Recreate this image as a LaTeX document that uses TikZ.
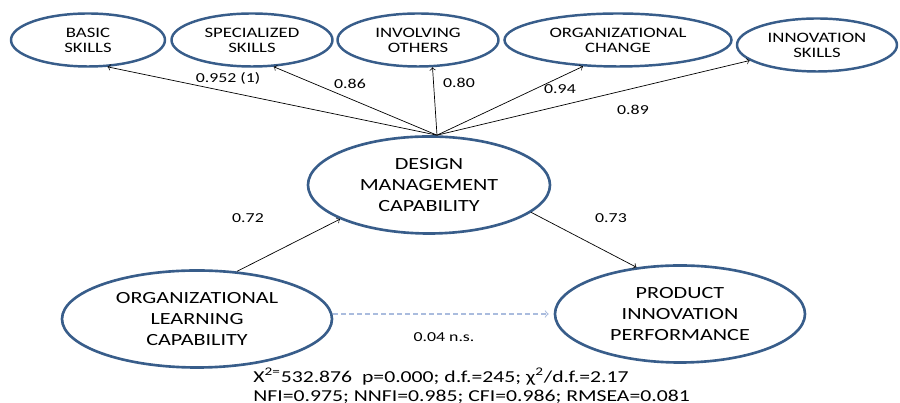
\documentclass[tikz,border=0pt]{standalone}
\usepackage{fontspec}
\setmainfont{Carlito}[FakeStretch=1.3]
\usetikzlibrary{shapes.geometric}
\definecolor{ovalblue}{RGB}{56,93,138}
\definecolor{nsblue}{RGB}{170,188,222}

\begin{document}
\begin{tikzpicture}[
    small/.style={ellipse, draw=ovalblue, line width=1.4pt, inner sep=0pt, align=center,
      font=\fontsize{8.2}{8.6}\selectfont, minimum height=1.06cm},
    big/.style={ellipse, draw=ovalblue, line width=1.5pt, inner sep=0pt, align=center,
      font=\fontsize{9.7}{12}\selectfont, minimum height=1.94cm},
    coef/.style={font=\fontsize{7.8}{9}\selectfont},
    link/.style={->, thin}
  ]
    \useasboundingbox (0,0) rectangle (18,8.06);

    % 上段の要素
    \node[small, minimum width=3.08cm] (basic) at (1.76,7.26) {BASIC\\SKILLS};
    \node[small, minimum width=3.22cm] (spec) at (5.04,7.26) {SPECIALIZED\\SKILLS};
    \node[small, minimum width=3.22cm] (invol) at (8.36,7.26) {INVOLVING\\OTHERS};
    \node[small, minimum width=4.54cm] (orgch) at (12.36,7.26) {ORGANIZATIONAL\\CHANGE};
    \node[small, minimum width=3.2cm] (innov) at (16.34,7.16) {INNOVATION\\SKILLS};

    % 中段・下段の要素
    \node[big, minimum width=4.84cm] (dmc) at (8.58,4.36) {DESIGN\\MANAGEMENT\\CAPABILITY};
    \node[big, minimum width=5.4cm] (olc) at (3.94,1.68) {ORGANIZATIONAL\\LEARNING\\CAPABILITY};
    \node[big, minimum width=5.0cm] (pip) at (13.6,1.78) {PRODUCT\\INNOVATION\\PERFORMANCE};

    \coordinate (hub) at ([xshift=0.16cm]dmc.north);
    \coordinate (nsend) at ([xshift=-0.1cm]pip.west);

    % 矢印(因子負荷)
    \draw[link] (hub) -- (basic.-54);
    \draw[link] (hub) -- (spec.-51);
    \draw[link] (hub) -- (invol.-62);
    \draw[link] (hub) -- (orgch.-143);
    \draw[link] (hub) -- (innov.-167);

    % 矢印(構造パス)
    \draw[link] (olc.50) -- (dmc.-159);
    \draw[link] (dmc.-15) -- (pip.133);
    \draw[->, line width=0.6pt, nsblue, dash pattern=on 0.1cm off 0.06cm] (olc.east |- nsend) -- (nsend);

    % 係数
    \node[coef] (c1) at (4.56,6.50) {0.952 (1)};
    \node[coef] (c2) at (7.00,6.38) {0.86};
    \node[coef] (c3) at (9.18,6.40) {0.80};
    \node[coef] (c4) at (11.20,6.28) {0.94};
    \node[coef] (c5) at (12.66,5.86) {0.89};
    \node[coef] (c6) at (4.96,3.70) {0.72};
    \node[coef] (c7) at (12.22,3.70) {0.73};
    \node[coef] (c8) at (8.88,1.32) {0.04 n.s.};

    % 適合度指標
    \node[anchor=west, align=left, inner sep=0pt, font=\fontsize{9.5}{10.8}\selectfont] (fit) at (5.06,0.35)
      {X\textsuperscript{2=}532.876 \ p=0.000; d.f.=245; χ\textsuperscript{2}/d.f.=2.17\\
       NFI=0.975; NNFI=0.985; CFI=0.986; RMSEA=0.081};
\end{tikzpicture}
\end{document}
